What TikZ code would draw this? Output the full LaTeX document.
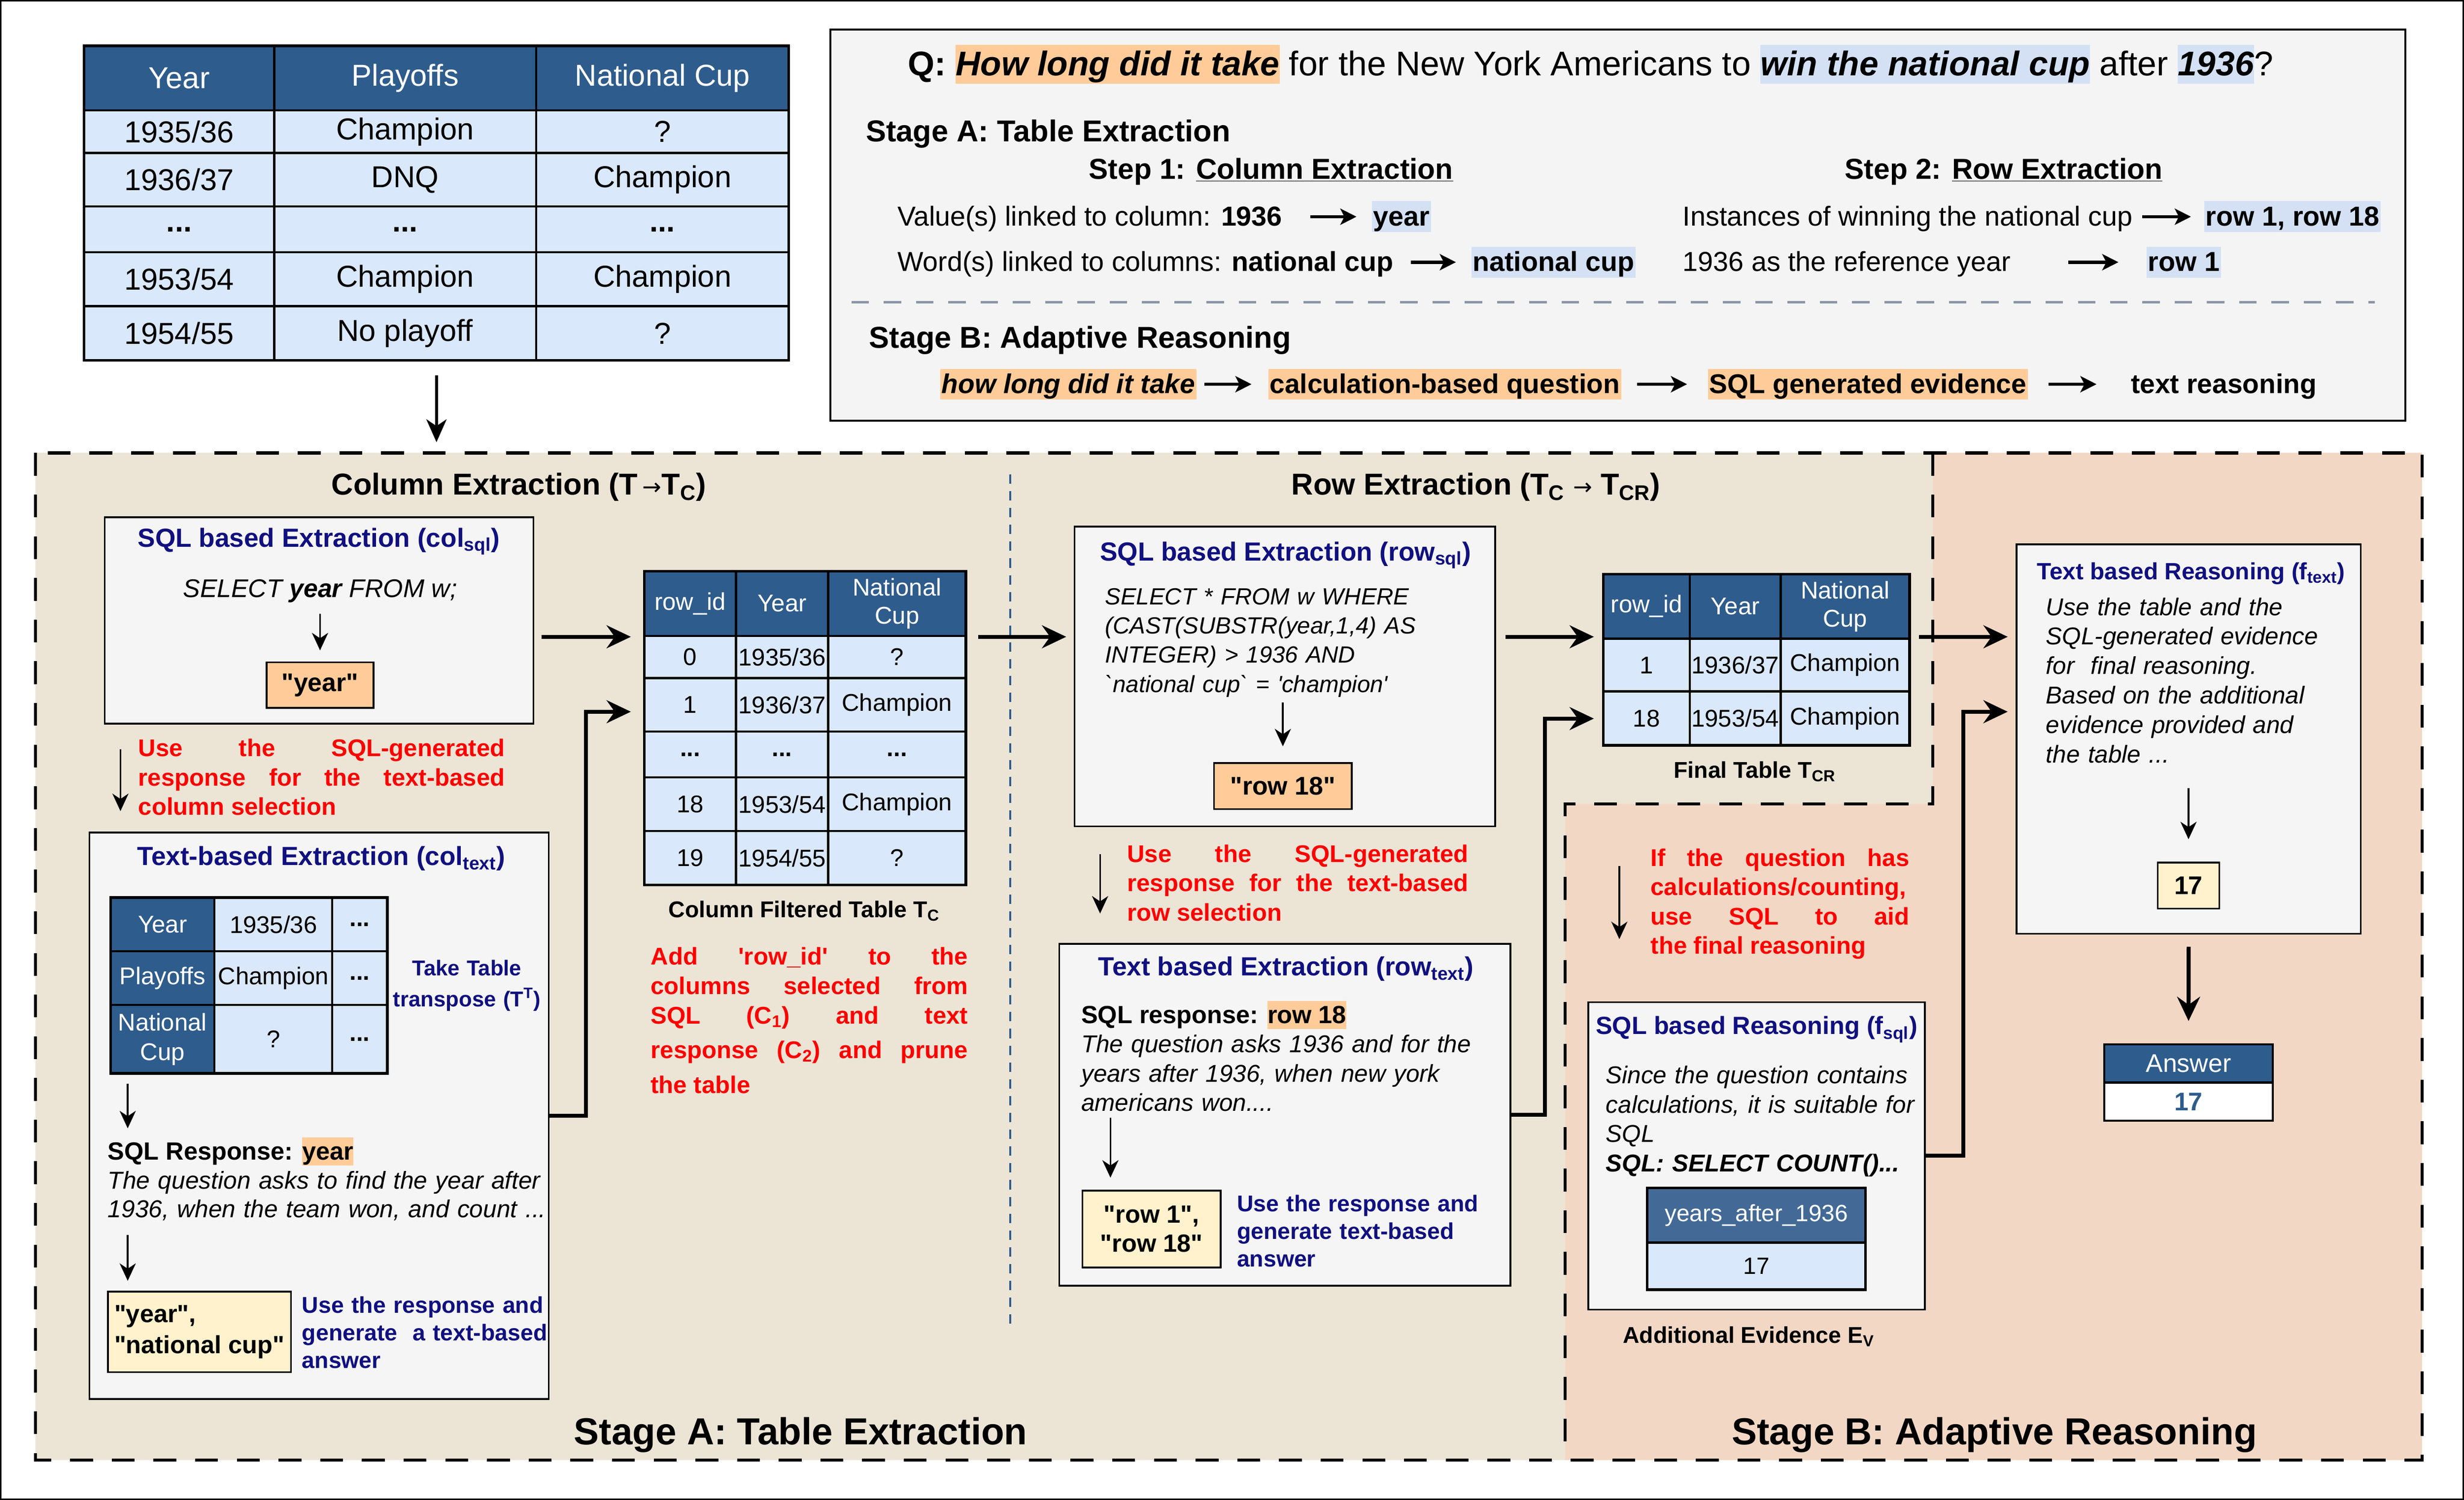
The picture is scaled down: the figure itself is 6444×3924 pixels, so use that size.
\documentclass[tikz,border=0pt]{standalone}
\usepackage{fontspec}
\setmainfont{Liberation Sans}
\newfontfamily\arrowfont{DejaVu Sans}
\usetikzlibrary{arrows.meta,calc}
\definecolor{hdrblue}{RGB}{46,92,140}
\definecolor{hdrblue2}{RGB}{67,106,150}
\definecolor{cellblue}{RGB}{218,232,252}
\definecolor{boxgray}{RGB}{245,245,245}
\definecolor{qgray}{RGB}{244,244,244}
\definecolor{hlorange}{RGB}{255,204,153}
\definecolor{hlblue}{RGB}{212,225,245}
\definecolor{yelbox}{RGB}{255,242,204}
\definecolor{beige}{RGB}{236,229,214}
\definecolor{peach}{RGB}{242,216,196}
\definecolor{navy}{RGB}{16,16,128}
\definecolor{redtxt}{RGB}{255,0,0}
\definecolor{dashgray}{RGB}{138,150,168}
\definecolor{divblue}{RGB}{47,92,140}
\newcommand\fsz[2]{\fontsize{#1}{#2}\selectfont}
\newcommand\qs{\vrule height .9em depth .23em width 0pt\relax}
\newcommand\hlx[2]{{\setlength\fboxsep{0pt}\colorbox{#1}{\qs#2}}}
\newcommand\arr{{\mdseries\arrowfont\fontsize{17}{17}\selectfont →}}
\newcommand\dq{\textquotedbl}
\newcommand\tcell[7]{\node[#6, minimum width={(#4-#2)*0.01cm}, minimum height={(#5-#3)*0.01cm}] (#1) at ({(#2+#4)/2},{(#3+#5)/2}) {#7};}
\tikzset{
  txt/.style={inner sep=0pt, outer sep=0pt},
  hc/.style={draw=black, line width=1.6pt, fill=hdrblue, text=white, inner sep=0pt, align=center},
  bc/.style={draw=black, line width=1.6pt, fill=cellblue, inner sep=0pt, align=center},
  hcA/.style={hc, font=\fsz{22.5}{26}},
  bcA/.style={bc, font=\fsz{22.5}{26}},
  hcB/.style={hc, font=\fsz{18}{21}},
  bcB/.style={bc, font=\fsz{18}{21}},
  tframe/.style={draw=black, line width=2pt, inner sep=0pt},
  panel/.style={draw=black, line width=1.3pt, fill=boxgray, inner sep=0pt},
  obox/.style={draw=black, line width=1.3pt, fill=hlorange, inner sep=0pt},
  ybox/.style={draw=black, line width=1.3pt, fill=yelbox, inner sep=0pt, align=center},
  bigarrow/.style={line width=3pt, -{Stealth[length=18pt,width=17pt,inset=6pt]}},
  midarrow/.style={line width=2.2pt, -{Stealth[length=17pt,width=15pt,inset=5pt]}},
  thinarrow/.style={line width=1.3pt, -{Stealth[length=13pt,width=12pt,inset=4pt]}},
  qarrow/.style={line width=2.4pt, -{Stealth[length=12pt,width=12pt,inset=3pt]}},
  redp/.style={txt, text=redtxt, font=\bfseries\fsz{18}{21.8}, align=justify},
  navyp/.style={txt, text=navy, font=\bfseries\fsz{17}{20.5}, align=left},
  ttl/.style={txt, text=navy, font=\bfseries\fsz{19.5}{23}},
  qtext/.style={txt, font=\fsz{20.4}{24}},
  hlo/.style={fill=hlorange, inner xsep=1pt, inner ysep=0pt},
  hlb/.style={fill=hlblue, inner xsep=1pt, inner ysep=0pt},
  stagedash/.style={draw=black, line width=2.3pt, dash pattern=on 17pt off 14pt},
  divdash/.style={draw=divblue, line width=1.4pt, dash pattern=on 7pt off 5.5pt},
  qdash/.style={draw=dashgray, line width=2pt, dash pattern=on 13pt off 11pt},
}
\begin{document}
\begin{tikzpicture}[x=0.01cm,y=-0.01cm]
\useasboundingbox (0,0) rectangle (6444,3924);
\draw[line width=1.2pt] (2,2) rectangle (6442,3922);
% stage backgrounds
\fill[beige] (93,1185) rectangle (6334,3820);
\fill[peach] (5055,1185) -- (6334,1185) -- (6334,3820) -- (4093,3820) -- (4093,2103) -- (5055,2103) -- cycle;
\draw[stagedash] (93,1185) rectangle (6334,3820);
\draw[stagedash] (5055,1185) -- (5055,2103) -- (4093,2103) -- (4093,3820);
\draw[divdash] (2642,1241) -- (2642,3473);
\coordinate (frametop) at (1141.5,1185);

% ---------- question box ----------
\tcell{qbox}{2172}{77}{6291}{1101}{draw=black, line width=1.5pt, fill=qgray, inner sep=0pt}{}
\node[txt, anchor=base west, font=\fsz{25.5}{30}] (qline) at (2375,198) {\textbf{Q:} \hlx{hlorange}{\textbf{\textit{How long did it take}}} for the New York Americans to \hlx{hlblue}{\textbf{\textit{win the national cup}}} after \hlx{hlblue}{\textbf{\textit{1936}}}?};
\node[txt, anchor=base west, font=\bfseries\fsz{22.5}{27}] (stA) at (2265,370) {Stage A: Table Extraction};
\node[txt, anchor=base west, font=\bfseries\fsz{21.5}{26}] (st1) at (2848,468) {Step 1: \underline{Column Extraction}};
\node[txt, anchor=base west, font=\bfseries\fsz{21.5}{26}] (st2) at (4825,468) {Step 2: \underline{Row Extraction}};
\node[qtext, anchor=base west] (v1) at (2347,591) {\qs Value(s) linked to column: \textbf{1936}};
\node[qtext, hlb, anchor=base west] (v1h) at (3588,591) {\qs\textbf{year}};
\node[qtext, anchor=base west] (v2) at (2347,710) {\qs Word(s) linked to columns: \textbf{national cup}};
\node[qtext, hlb, anchor=base west] (v2h) at (3848,710) {\qs\textbf{national cup}};
\node[qtext, anchor=base west] (v3) at (4401,591) {\qs Instances of winning the national cup};
\node[qtext, hlb, anchor=base west] (v3h) at (5765,591) {\qs\textbf{row 1, row 18}};
\node[qtext, anchor=base west] (v4) at (4401,710) {\qs 1936 as the reference year};
\node[qtext, hlb, anchor=base west] (v4h) at (5614,710) {\qs\textbf{row 1}};
\draw[qarrow, shorten <=21pt, shorten >=11.5pt] (v1.east) -- (v1h.west);
\draw[qarrow, shorten <=13pt, shorten >=11.5pt] (v2.east) -- (v2h.west);
\draw[qarrow, shorten <=7pt, shorten >=10pt] (v3.east) -- (v3h.west);
\draw[qarrow, shorten <=43pt, shorten >=21pt] (v4.east) -- (v4h.west);
\draw[qdash] (2227,791) -- (6211,791);
\node[txt, anchor=base west, font=\bfseries\fsz{22.5}{27}] (stB) at (2273,910) {Stage B: Adaptive Reasoning};
\node[txt, hlo, anchor=base west, font=\bfseries\fsz{20.2}{24}] (b1) at (2459,1029) {\qs\textit{how long did it take}};
\node[txt, hlo, anchor=base west, font=\bfseries\fsz{20.2}{24}] (b2) at (3317,1029) {\qs calculation-based question};
\node[txt, hlo, anchor=base west, font=\bfseries\fsz{20.2}{24}] (b3) at (4467,1029) {\qs SQL generated evidence};
\node[txt, anchor=base west, font=\bfseries\fsz{20.2}{24}] (b4) at (5573,1029) {\qs text reasoning};
\draw[qarrow, shorten <=6pt, shorten >=12.5pt] (b1.east) -- (b2.west);
\draw[qarrow, shorten <=12pt, shorten >=15.6pt] (b2.east) -- (b3.west);
\draw[qarrow, shorten <=15.6pt, shorten >=25.6pt] (b3.east) -- (b4.west);

% ---------- top table ----------
\tcell{tA00}{220}{120}{717}{289}{hcA}{Year}
\tcell{tA01}{717}{120}{1402}{289}{hcA}{Playoffs}
\tcell{tA02}{1402}{120}{2063}{289}{hcA}{National Cup}
\tcell{tA10}{220}{289}{717}{400}{bcA}{1935/36}
\tcell{tA11}{717}{289}{1402}{400}{bcA}{Champion}
\tcell{tA12}{1402}{289}{2063}{400}{bcA}{?}
\tcell{tA20}{220}{400}{717}{540}{bcA}{1936/37}
\tcell{tA21}{717}{400}{1402}{540}{bcA}{DNQ}
\tcell{tA22}{1402}{400}{2063}{540}{bcA}{Champion}
\tcell{tA30}{220}{540}{717}{660}{bcA}{\textbf{...}}
\tcell{tA31}{717}{540}{1402}{660}{bcA}{\textbf{...}}
\tcell{tA32}{1402}{540}{2063}{660}{bcA}{\textbf{...}}
\tcell{tA40}{220}{660}{717}{801}{bcA}{1953/54}
\tcell{tA41}{717}{660}{1402}{801}{bcA}{Champion}
\tcell{tA42}{1402}{660}{2063}{801}{bcA}{Champion}
\tcell{tA50}{220}{801}{717}{943}{bcA}{1954/55}
\tcell{tA51}{717}{801}{1402}{943}{bcA}{No playoff}
\tcell{tA52}{1402}{801}{2063}{943}{bcA}{?}
\tcell{tabT}{220}{120}{2063}{943}{tframe}{}
\draw[midarrow, shorten <=10pt, shorten >=8pt] (tabT.south) -- (frametop);

% ---------- section titles ----------
\node[txt, anchor=base, font=\bfseries\fsz{22.5}{27}] (colTitle) at (1357,1295) {Column Extraction (T\,\arr T\textsubscript{C})};
\node[txt, anchor=base, font=\bfseries\fsz{22.5}{27}] (rowTitle) at (3860,1295) {Row Extraction (T\textsubscript{C} \arr\ T\textsubscript{CR})};

% ---------- column SQL ----------
\tcell{colsql}{274}{1353}{1395}{1893}{panel}{}
\node[ttl, anchor=base] (colsqlT) at (834,1431) {SQL based Extraction (col\textsubscript{sql})};
\node[txt, anchor=base, font=\itshape\fsz{19}{23}] (colsel) at (837,1563) {SELECT \textbf{year} FROM w;};
\tcell{yearbox}{697}{1733}{977}{1852}{obox, font=\bfseries\fsz{19}{23}}{\dq year\dq}
\draw[thinarrow, shorten >=8.3pt] (yearbox.north |- 0,1606) -- (yearbox.north);
\node[redp, anchor=base west, text width=9.58cm] (red1) at (362,1979) {Use the SQL-generated\linebreak response for the text-based\linebreak column selection};
\coordinate (r1a) at (315,1960);
\coordinate (r1b) at (315,2122);
\draw[thinarrow] (r1a) -- (r1b);

% ---------- column text ----------
\tcell{coltext}{234}{2178}{1435}{3660}{panel}{}
\node[ttl, anchor=base] (coltextT) at (840,2264) {Text-based Extraction (col\textsubscript{text})};
\tcell{tt00}{289}{2348}{561}{2489}{hcB}{Year}
\tcell{tt01}{561}{2348}{869}{2489}{bcB}{1935/36}
\tcell{tt02}{869}{2348}{1013}{2489}{bcB}{\textbf{...}}
\tcell{tt10}{289}{2489}{561}{2629}{hcB}{Playoffs}
\tcell{tt11}{561}{2489}{869}{2629}{bcB}{Champion}
\tcell{tt12}{869}{2489}{1013}{2629}{bcB}{\textbf{...}}
\tcell{tt20}{289}{2629}{561}{2808}{hcB, font=\fsz{18}{22}}{National\\Cup}
\tcell{tt21}{561}{2629}{869}{2808}{bcB}{?}
\tcell{tt22}{869}{2629}{1013}{2808}{bcB}{\textbf{...}}
\tcell{tabTT}{289}{2348}{1013}{2808}{tframe}{}
\node[txt, anchor=base, text width=4.2cm, align=center, text=navy, font=\bfseries\fsz{16}{23}] (ttT) at (1221,2553) {Take Table\\transpose (T\textsuperscript{T})};
\draw[thinarrow] (334,2835) -- (334,2952);
\node[txt, anchor=base west, font=\bfseries\fsz{18.5}{22}] (sqlresp) at (282,3034) {SQL Response: \hlx{hlorange}{year}};
\node[txt, anchor=base west, text width=11.6cm, align=left, font=\itshape\fsz{18.2}{21.3}] (resp1) at (282,3110) {The question asks to find the year after\\1936, when the team won, and count ...};
\draw[thinarrow] (334,3231) -- (334,3351);
\tcell{ycol}{282}{3379}{761}{3590}{ybox, align=left, font=\bfseries\fsz{18.5}{23}}{\dq year\dq,\\\dq national cup\dq}
\node[navyp, anchor=base west, text width=6.6cm] (use1) at (790,3435) {Use the response and\\generate\ \ a text-based\\answer};

% ---------- column filtered table ----------
\tcell{c00}{1685}{1494}{1925}{1664}{hcB}{row\_id}
\tcell{c01}{1925}{1494}{2166}{1664}{hcB}{Year}
\tcell{c02}{2166}{1494}{2526}{1664}{hcB}{National\\Cup}
\tcell{c10}{1685}{1664}{1925}{1774}{bcB}{0}
\tcell{c11}{1925}{1664}{2166}{1774}{bcB}{1935/36}
\tcell{c12}{2166}{1664}{2526}{1774}{bcB}{?}
\tcell{c20}{1685}{1774}{1925}{1914}{bcB}{1}
\tcell{c21}{1925}{1774}{2166}{1914}{bcB}{1936/37}
\tcell{c22}{2166}{1774}{2526}{1914}{bcB}{Champion}
\tcell{c30}{1685}{1914}{1925}{2034}{bcB}{\textbf{...}}
\tcell{c31}{1925}{1914}{2166}{2034}{bcB}{\textbf{...}}
\tcell{c32}{2166}{1914}{2526}{2034}{bcB}{\textbf{...}}
\tcell{c40}{1685}{2034}{1925}{2174}{bcB}{18}
\tcell{c41}{1925}{2034}{2166}{2174}{bcB}{1953/54}
\tcell{c42}{2166}{2034}{2526}{2174}{bcB}{Champion}
\tcell{c50}{1685}{2174}{1925}{2315}{bcB}{19}
\tcell{c51}{1925}{2174}{2166}{2315}{bcB}{1954/55}
\tcell{c52}{2166}{2174}{2526}{2315}{bcB}{?}
\tcell{tabC}{1685}{1494}{2526}{2315}{tframe}{}
\node[txt, anchor=base, font=\bfseries\fsz{17}{20}] (capC) at (2103,2400) {Column Filtered Table T\textsubscript{C}};
\node[redp, anchor=base west, text width=8.29cm, font=\bfseries\fsz{18}{22}] (red2) at (1702,2524) {Add \textquotesingle row\_id\textquotesingle\ to the\linebreak columns selected from\linebreak SQL (C\textsubscript{1}) and text\vrule height 0pt depth 11.5pt width 0pt\linebreak response (C\textsubscript{2}) and prune\vrule height 0pt depth 12pt width 0pt\linebreak the table};

% ---------- row SQL ----------
\tcell{rowsql}{2810}{1378}{3910}{2162}{panel}{}
\node[ttl, anchor=base] (rowsqlT) at (3362,1467) {SQL based Extraction (row\textsubscript{sql})};
\node[txt, anchor=base west, text width=10cm, align=left, font=\itshape\fsz{17.4}{21.7}] (rsel) at (2890,1582) {SELECT * FROM w WHERE\\(CAST(SUBSTR(year,1,4) AS\\INTEGER) > 1936 AND\\\textasciigrave national cup\textasciigrave\ = \textquotesingle champion\textquotesingle};
\tcell{row18}{3175}{1996}{3535}{2117}{obox, font=\bfseries\fsz{19}{23}}{\dq row 18\dq}
\draw[thinarrow, shorten >=11.7pt] (row18.north |- 0,1838) -- (row18.north);
\node[redp, anchor=base west, text width=8.92cm] (red3) at (2948,2256) {Use the SQL-generated\linebreak response for the text-based\linebreak row selection};
\coordinate (r3a) at (2877,2235);
\coordinate (r3b) at (2877,2390);
\draw[thinarrow] (r3a) -- (r3b);

% ---------- row text ----------
\tcell{rowtext}{2770}{2469}{3950}{3364}{panel}{}
\node[ttl, anchor=base] (rowtextT) at (3363,2553) {Text based Extraction (row\textsubscript{text})};
\node[txt, anchor=base west, font=\bfseries\fsz{18.5}{22}] (rresp) at (2828,2677) {SQL response: \hlx{hlorange}{row 18}};
\node[txt, anchor=base west, text width=11cm, align=left, font=\itshape\fsz{18.1}{21.8}] (rresp1) at (2828,2754) {The question asks 1936 and for the\\years after 1936, when new york\\americans won....};
\draw[thinarrow] (2904,2924) -- (2904,3081);
\tcell{yrow}{2831}{3115}{3192}{3316}{ybox, font=\bfseries\fsz{18.5}{21.5}}{\dq row 1\dq,\\\dq row 18\dq}
\node[navyp, anchor=base west, text width=6.6cm] (use2) at (3235,3170) {Use the response and\\generate text-based\\answer};

% ---------- final table ----------
\tcell{f00}{4193}{1502}{4419}{1671}{hcB}{row\_id}
\tcell{f01}{4419}{1502}{4657}{1671}{hcB}{Year}
\tcell{f02}{4657}{1502}{4994}{1671}{hcB}{National\\Cup}
\tcell{f10}{4193}{1671}{4419}{1809}{bcB}{1}
\tcell{f11}{4419}{1671}{4657}{1809}{bcB}{1936/37}
\tcell{f12}{4657}{1671}{4994}{1809}{bcB}{Champion}
\tcell{f20}{4193}{1809}{4419}{1950}{bcB}{18}
\tcell{f21}{4419}{1809}{4657}{1950}{bcB}{1953/54}
\tcell{f22}{4657}{1809}{4994}{1950}{bcB}{Champion}
\tcell{tabF}{4193}{1502}{4994}{1950}{tframe}{}
\node[txt, anchor=base, font=\bfseries\fsz{17}{20}] (capF) at (4589,2036) {Final Table T\textsubscript{CR}};

% ---------- stage B ----------
\node[redp, anchor=base west, text width=6.76cm] (red4) at (4317,2266) {If the question has\linebreak calculations/counting,\linebreak use SQL to aid\linebreak the final reasoning};
\coordinate (r4a) at (4235,2266);
\coordinate (r4b) at (4235,2457);
\draw[thinarrow] (r4a) -- (r4b);
\tcell{fsql}{4154}{2622}{5034}{3426}{panel}{}
\node[ttl, anchor=base, font=\bfseries\fsz{18.5}{22}] (fsqlT) at (4594,2706) {SQL based Reasoning (f\textsubscript{sql})};
\node[txt, anchor=base west, text width=9cm, align=left, font=\itshape\fsz{18.1}{21.8}] (fsqltx) at (4200,2835) {Since the question contains\\calculations, it is suitable for\\SQL\\\textbf{SQL: SELECT COUNT()...}};
\tcell{e0}{4308}{3108}{4879}{3251}{hc, fill=hdrblue2, font=\fsz{17.5}{21}}{years\_after\_1936}
\tcell{e1}{4308}{3251}{4879}{3374}{bc, font=\fsz{17.5}{21}}{17}
\tcell{tabE}{4308}{3108}{4879}{3374}{tframe}{}
\node[txt, anchor=base, font=\bfseries\fsz{17}{20}] (capE) at (4573,3514) {Additional Evidence E\textsubscript{V}};

\tcell{ftext}{5274}{1424}{6174}{2443}{panel}{}
\node[ttl, anchor=base, font=\bfseries\fsz{17.5}{21}] (ftextT) at (5730,1516) {Text based Reasoning (f\textsubscript{text})};
\node[txt, anchor=base west, text width=8cm, align=left, font=\itshape\fsz{18.1}{21.9}] (ftx) at (5351,1610) {Use the table and the\\SQL-generated evidence\\for\ \ final reasoning.\\Based on the additional\\evidence provided and\\the table ...};
\tcell{y17}{5643}{2257}{5804}{2377}{ybox, font=\bfseries\fsz{19}{23}}{17}
\draw[thinarrow, shorten >=16.8pt] (y17.north |- 0,2062) -- (y17.north);
\tcell{ansH}{5503}{2732}{5944}{2832}{hc, font=\fsz{19}{23}}{Answer}
\tcell{ansB}{5503}{2832}{5944}{2932}{draw=black, line width=1.6pt, fill=white, text=hdrblue, inner sep=0pt, font=\bfseries\fsz{19}{23}}{17}
\tcell{answer}{5503}{2732}{5944}{2932}{draw=black, line width=1.6pt, inner sep=0pt}{}

% ---------- thick connectors ----------
\draw[bigarrow, shorten <=5.5pt, shorten >=9pt] (colsql.east |- 0,1666) -- (tabC.west |- 0,1666);
\draw[bigarrow, shorten >=9pt] (coltext.east) -| (1532,1862) -- (tabC.west |- 0,1862);
\draw[bigarrow, shorten <=8pt, shorten >=5.5pt] (tabC.east |- 0,1666) -- (rowsql.west |- 0,1666);
\draw[bigarrow, shorten <=7pt, shorten >=6pt] (rowsql.east |- 0,1666) -- (tabF.west |- 0,1666);
\draw[bigarrow, shorten >=6pt] (rowtext.east) -| (4040,1880) -- (tabF.west |- 0,1880);
\draw[bigarrow, shorten <=6pt, shorten >=6pt] (tabF.east |- 0,1666) -- (ftext.west |- 0,1666);
\draw[bigarrow, shorten >=6pt] (fsql.east) -| (5134,1862) -- (ftext.west |- 0,1862);
\draw[bigarrow, shorten <=9pt, shorten >=16.5pt] (ftext.south) -- (answer.north);

% ---------- stage labels ----------
\node[txt, anchor=base, font=\bfseries\fsz{28}{33}] (labA) at (2094,3780) {Stage A: Table Extraction};
\node[txt, anchor=base, font=\bfseries\fsz{28}{33}] (labB) at (5216,3780) {Stage B: Adaptive Reasoning};
\end{tikzpicture}
\end{document}
